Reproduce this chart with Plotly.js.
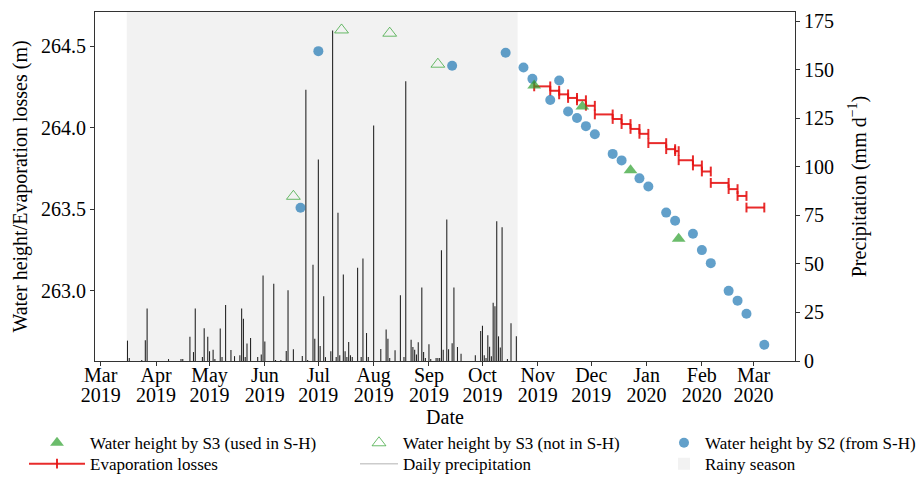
<!DOCTYPE html>
<html><head><meta charset="utf-8">
<script src="https://cdn.plot.ly/plotly-3.0.1.min.js"></script>
<style>html,body{margin:0;padding:0;background:#fff}</style>
</head><body><div id="chart" style="width:922px;height:477px"></div>
<script>
// Water height by S2 (from S-H)
const s2Dates = ['2019-06-21','2019-07-01','2019-09-14','2019-10-14','2019-10-24','2019-10-29','2019-11-08','2019-11-13','2019-11-18','2019-11-23','2019-11-28','2019-12-03','2019-12-13','2019-12-18','2019-12-28','2020-01-02','2020-01-12','2020-01-17','2020-01-27','2020-02-01','2020-02-06','2020-02-16','2020-02-21','2020-02-26','2020-03-07'];
const s2Heights = [263.51,264.47,264.38,264.46,264.37,264.30,264.17,264.29,264.10,264.06,264.01,263.96,263.84,263.80,263.69,263.64,263.48,263.43,263.35,263.25,263.17,263.00,262.94,262.86,262.67];
// Water height by S3 (used in S-H)
const s3UsedDates = ['2019-10-30','2019-11-26','2019-12-23','2020-01-19'];
const s3UsedHeights = [264.26,264.13,263.74,263.32];
// Water height by S3 (not in S-H)
const s3NotDates = ['2019-06-17','2019-07-14','2019-08-10','2019-09-06'];
const s3NotHeights = [263.58,264.60,264.58,264.39];
// Evaporation losses (segments)
const evapStart = ['2019-10-30','2019-11-08','2019-11-13','2019-11-18','2019-11-23','2019-11-28','2019-12-03','2019-12-13','2019-12-18','2019-12-23','2019-12-28','2020-01-02','2020-01-12','2020-01-17','2020-01-19','2020-01-27','2020-02-01','2020-02-06','2020-02-16','2020-02-21','2020-02-26'];
const evapEnd = ['2019-11-08','2019-11-13','2019-11-18','2019-11-23','2019-11-28','2019-12-03','2019-12-13','2019-12-18','2019-12-23','2019-12-28','2020-01-02','2020-01-12','2020-01-17','2020-01-19','2020-01-27','2020-02-01','2020-02-06','2020-02-16','2020-02-21','2020-02-26','2020-03-07'];
const evapHeights = [264.254,264.227,264.205,264.183,264.169,264.135,264.082,264.054,264.023,263.993,263.963,263.906,263.869,263.857,263.801,263.769,263.732,263.662,263.624,263.582,263.511];
// Daily precipitation (mm/d)
const precipDates = ['2019-03-16','2019-03-17','2019-03-24','2019-03-26','2019-03-27','2019-04-08','2019-04-15','2019-04-16','2019-04-20','2019-04-22','2019-04-23','2019-04-27','2019-04-28','2019-04-30','2019-05-01','2019-05-03','2019-05-04','2019-05-07','2019-05-08','2019-05-10','2019-05-13','2019-05-15','2019-05-18','2019-05-19','2019-05-20','2019-05-21','2019-05-22','2019-05-24','2019-05-28','2019-05-30','2019-05-31','2019-06-01','2019-06-06','2019-06-07','2019-06-10','2019-06-13','2019-06-14','2019-06-17','2019-06-22','2019-06-24','2019-06-25','2019-06-28','2019-06-29','2019-07-01','2019-07-02','2019-07-04','2019-07-05','2019-07-08','2019-07-09','2019-07-11','2019-07-12','2019-07-13','2019-07-15','2019-07-16','2019-07-17','2019-07-18','2019-07-19','2019-07-20','2019-07-23','2019-07-25','2019-07-26','2019-07-28','2019-07-29','2019-08-01','2019-08-05','2019-08-08','2019-08-09','2019-08-10','2019-08-13','2019-08-16','2019-08-18','2019-08-19','2019-08-22','2019-08-23','2019-08-24','2019-08-25','2019-08-26','2019-08-28','2019-08-29','2019-08-30','2019-09-01','2019-09-02','2019-09-05','2019-09-06','2019-09-07','2019-09-08','2019-09-09','2019-09-11','2019-09-12','2019-09-14','2019-09-15','2019-09-17','2019-09-19','2019-09-27','2019-09-30','2019-10-01','2019-10-02','2019-10-03','2019-10-04','2019-10-05','2019-10-06','2019-10-07','2019-10-08','2019-10-09','2019-10-10','2019-10-11','2019-10-12','2019-10-15','2019-10-17','2019-10-20'];
const precipValues = [10.5,1.5,0.5,10.7,27,1,1,1,12.5,4.6,27,2,16.8,12.5,5,5.8,1,16.7,2,28.8,5.7,2.5,3,27,21.8,2,9,11.9,2,3.3,44,10,39.8,0.5,0.5,5.2,36.4,6,2.6,139.7,0.5,49.5,11.5,103.7,7.7,33.3,2,5,170.2,2,76.3,3,44.6,5,2,9.8,3,2,48,2,52.8,14.4,2,121.3,6.2,16.2,11.5,1.5,5.5,33.8,2,144,11,7.2,5.8,3.4,9.7,37.9,4.6,1.5,8.6,1,1.5,1.5,1.5,57,5.8,72.8,6,9.2,37.9,7.2,3.7,3,15.4,18.2,3,1.5,13.2,7.4,2.5,30,28.2,72,12.7,6.9,68.9,1,19.4,12.8];
// Rainy season
const rainyStart = '2019-03-15 14:00';
const rainyEnd = '2019-10-20 17:00';
// Axis ticks
const precipTicks = [0,25,50,75,100,125,150,175];
const heightTicks = [263.0,263.5,264.0,264.5];

const DAY = 86400000;
const evapX = [], evapY = [];
for (let i = 0; i < evapStart.length; i++) {
  evapX.push(evapStart[i], evapEnd[i], null);
  evapY.push(evapHeights[i], evapHeights[i], null);
}

const FONT = '"Liberation Serif", "Times New Roman", serif';
const blue = 'rgba(31,119,180,0.7)';
const green = 'rgba(44,160,44,0.7)';
const red = 'rgba(230,20,20,0.9)';
const X_RANGE = ['2019-02-25 19:00','2020-03-24 05:00'];

const traces = [
  {type:'bar', x:precipDates, y:precipValues, yaxis:'y', width:0.6*DAY,
   marker:{color:'#222', line:{width:0}}, showlegend:false},
  {type:'scatter', mode:'lines+markers', x:evapX, y:evapY, yaxis:'y2', name:'Evaporation losses',
   line:{color:red, width:2}, marker:{symbol:'line-ns', size:7, line:{color:red, width:2}},
   legend:'legend4', connectgaps:false},
  {type:'scatter', mode:'markers', x:s2Dates, y:s2Heights, yaxis:'y2', name:'Water height by S2 (from S-H)',
   marker:{symbol:'circle', size:10, color:blue}, legend:'legend3'},
  {type:'scatter', mode:'markers', x:s3UsedDates, y:s3UsedHeights, yaxis:'y2', name:'Water height by S3 (used in S-H)',
   marker:{symbol:'triangle-up', size:12, color:green}, legend:'legend'},
  {type:'scatter', mode:'markers', x:s3NotDates, y:s3NotHeights, yaxis:'y2', name:'Water height by S3 (not in S-H)',
   marker:{symbol:'triangle-up-open', size:12, color:green, line:{width:1}}, legend:'legend2'},
  // legend entry for the precipitation bars; also carries the year-label axis
  {type:'scatter', mode:'lines', x:[null], y:[null], xaxis:'x2', yaxis:'y', name:'Daily precipitation',
   line:{color:'#cccccc', width:1.5}, legend:'legend5'}
];

function leg(left, textGap, rowY) {
  const w = Math.max(30, 2 * textGap - 10);
  const center = (w + 10) / 2;
  return {orientation:'v', xanchor:'left', yanchor:'top', x:(left - center - 95) / 700, y:rowY,
    bgcolor:'rgba(0,0,0,0)', itemwidth:w,
    font:{family:FONT, size:17, color:'black'}, tracegroupgap:0};
}
const ROW1 = -0.184, ROW2 = -0.244;

const axisCommon = {ticks:'outside', ticklen:4, tickcolor:'#333', showgrid:false, zeroline:false,
  tickfont:{family:FONT, size:20, color:'black'}};

const layout = {
  width:922, height:477,
  margin:{l:95, r:127, t:12, b:116, autoexpand:false},
  paper_bgcolor:'white', plot_bgcolor:'white',
  font:{family:FONT, size:20, color:'black'},
  showlegend:true,
  xaxis:Object.assign({}, axisCommon, {type:'date', range:X_RANGE, tick0:'2019-03-01', dtick:'M1',
    tickformat:'%b', showline:true, linecolor:'#333', mirror:true, ticklabelstandoff:-8}),
  xaxis2:Object.assign({}, axisCommon, {type:'date', overlaying:'x', anchor:'y', side:'bottom', range:X_RANGE,
    tick0:'2019-03-01', dtick:'M1', tickformat:'%Y', tickcolor:'rgba(0,0,0,0)', showline:false,
    ticklabelstandoff:12, automargin:true,
    title:{text:'Date', font:{family:FONT, size:20}, standoff:0}}),
  yaxis:Object.assign({}, axisCommon, {side:'right', range:[0,179.7], tickvals:precipTicks,
    showline:true, linecolor:'#333', automargin:true,
    title:{text:'Precipitation (mm d<sup>−1</sup>)', font:{family:FONT, size:20}, standoff:18}}),
  yaxis2:Object.assign({}, axisCommon, {overlaying:'y', side:'left', range:[262.57,264.71], tickvals:heightTicks,
    tickformat:'.1f', showline:true, linecolor:'#333', automargin:true,
    title:{text:'Water height/Evaporation losses (m)', font:{family:FONT, size:20}, standoff:8}}),
  shapes:[{type:'rect', xref:'x', yref:'paper', x0:rainyStart, x1:rainyEnd, y0:0, y1:1,
    fillcolor:'#f2f2f2', line:{width:0}, layer:'below', showlegend:true, name:'Rainy season', legend:'legend6'}],
  legend:leg(57, 33, ROW1),
  legend2:leg(379, 24, ROW1),
  legend3:leg(684, 21, ROW1),
  legend4:leg(57, 33, ROW2),
  legend5:leg(379, 24, ROW2),
  legend6:leg(684, 21, ROW2)
};

Plotly.newPlot('chart', traces, layout, {displayModeBar:false, staticPlot:true});
</script>
</body></html>
